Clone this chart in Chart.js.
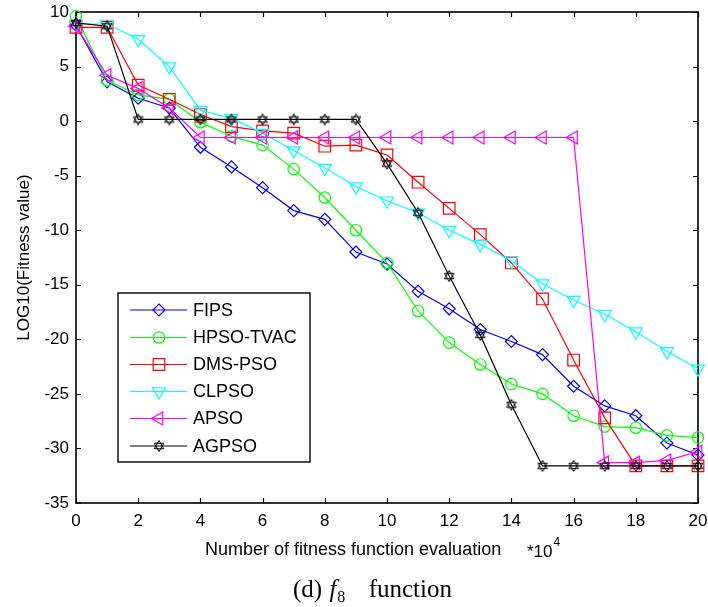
<!DOCTYPE html>
<html>
<head>
<meta charset="utf-8">
<script src="https://cdn.jsdelivr.net/npm/chart.js@4/dist/chart.umd.min.js"></script>
<style>
  html, body { margin:0; padding:0; background:#fff; }
  #wrap { position:relative; width:708px; height:607px; }
</style>
</head>
<body>
<div id="wrap">
  <canvas id="c" width="708" height="607"></canvas>
</div>
<script>
const xValues = [0,1,2,3,4,5,6,7,8,9,10,11,12,13,14,15,16,17,18,19,20];
const seriesNames = ["FIPS","HPSO-TVAC","DMS-PSO","CLPSO","APSO","AGPSO"];
const fips  = [8.8,3.6,2.1,1.2,-2.4,-4.2,-6.1,-8.2,-9.0,-12.0,-13.1,-15.6,-17.2,-19.1,-20.2,-21.4,-24.3,-26.1,-27.0,-29.5,-30.6];
const hpso  = [9.6,3.75,2.4,2.0,-0.1,-1.4,-2.2,-4.4,-7.0,-10.0,-13.0,-17.4,-20.3,-22.3,-24.1,-25.0,-27.0,-28.0,-28.1,-28.8,-29.0];
const dms   = [8.6,8.6,3.3,2.0,0.6,-0.5,-0.9,-1.1,-2.3,-2.2,-3.1,-5.6,-8.0,-10.4,-13.0,-16.3,-21.9,-27.2,-31.6,-31.6,-31.6];
const clpso = [8.9,8.9,7.5,5.0,1.0,0.25,-1.1,-2.7,-4.3,-6.0,-7.3,-8.4,-10.0,-11.3,-12.8,-14.9,-16.4,-17.7,-19.3,-21.1,-22.7];
const apso  = [8.7,4.2,3.0,1.2,-1.5,-1.5,-1.5,-1.5,-1.5,-1.5,-1.5,-1.5,-1.5,-1.5,-1.5,-1.5,-1.5,-31.3,-31.3,-31.1,-30.3];
const agpso = [9.0,8.7,0.15,0.15,0.15,0.15,0.15,0.15,0.15,0.15,-3.9,-8.4,-14.2,-19.6,-26.0,-31.6,-31.6,-31.6,-31.6,-31.6,-31.6];
const xTicks = [0,2,4,6,8,10,12,14,16,18,20];
const yTicks = [-35,-30,-25,-20,-15,-10,-5,0,5,10];

// hexagram marker
function makeStar(){
  const s = 14, c = document.createElement('canvas');
  c.width = s; c.height = s;
  const g = c.getContext('2d');
  g.strokeStyle = '#000'; g.lineWidth = 1;
  const cx = s/2, cy = s/2, r = 5.5;
  for (const off of [-Math.PI/2, Math.PI/2]) {
    g.beginPath();
    for (let k=0;k<3;k++){
      const a = off + k*2*Math.PI/3;
      const px = cx + r*Math.cos(a), py = cy + r*Math.sin(a);
      if(k===0) g.moveTo(px,py); else g.lineTo(px,py);
    }
    g.closePath(); g.stroke();
  }
  return c;
}
const starImg = makeStar();

const styles = [
  {color:'#0000ff', pointStyle:'rectRot', radius:6, rot:0},
  {color:'#00ff00', pointStyle:'circle', radius:5.7, rot:0},
  {color:'#ff0000', pointStyle:'rect', radius:8.2, rot:0},
  {color:'#00ffff', pointStyle:'triangle', radius:7.5, rot:180},
  {color:'#ff00ff', pointStyle:'triangle', radius:7.5, rot:270},
  {color:'#000000', pointStyle:starImg, radius:6, rot:0},
];
const allSeries = [fips,hpso,dms,clpso,apso,agpso];

const datasets = allSeries.map((vals,i)=>({
  label: seriesNames[i],
  data: xValues.map((x,j)=>({x:x, y:vals[j]})),
  borderColor: styles[i].color,
  backgroundColor: 'rgba(0,0,0,0)',
  borderWidth: 1.2,
  pointStyle: styles[i].pointStyle,
  pointRadius: styles[i].radius,
  pointRotation: styles[i].rot,
  pointBorderColor: styles[i].color,
  pointBackgroundColor: 'rgba(0,0,0,0)',
  pointBorderWidth: 1.2,
  tension: 0,
  clip: false,
  order: 6 - i
}));

const FONT = '"Liberation Sans", Arial, sans-serif';
const SERIF = '"Liberation Serif", "Times New Roman", serif';

const framePlugin = {
  id:'frame',
  beforeDatasetsDraw(chart){
    const {ctx, chartArea:a, scales:{x,y}} = chart;
    ctx.save();
    ctx.strokeStyle = '#000'; ctx.lineWidth = 1.6;
    ctx.strokeRect(a.left, a.top, a.right-a.left, a.bottom-a.top);
    ctx.lineWidth = 1.2;
    const L = 5;
    ctx.beginPath();
    xTicks.forEach(v=>{
      const px = Math.round(x.getPixelForValue(v))+0.5;
      ctx.moveTo(px, a.bottom); ctx.lineTo(px, a.bottom-L);
      ctx.moveTo(px, a.top); ctx.lineTo(px, a.top+L);
    });
    yTicks.forEach(v=>{
      const py = Math.round(y.getPixelForValue(v))+0.5;
      ctx.moveTo(a.left, py); ctx.lineTo(a.left+L, py);
      ctx.moveTo(a.right, py); ctx.lineTo(a.right-L, py);
    });
    ctx.stroke();
    ctx.restore();
  },
  afterDraw(chart){
    const {ctx, chartArea:a} = chart;
    ctx.save();
    // axis titles
    ctx.fillStyle = '#000';
    ctx.font = '18px ' + FONT;
    ctx.textBaseline = 'middle';
    ctx.textAlign = 'left';
    ctx.fillText('Number of fitness function evaluation', 205, 550);
    ctx.font = '17px ' + FONT;
    ctx.fillText('*10', 527, 552);
    const w10 = ctx.measureText('*10').width;
    ctx.font = '12px ' + FONT;
    ctx.fillText('4', 527 + w10 + 1, 543);
    ctx.font = '17px ' + FONT;
    ctx.translate(24, (a.top+a.bottom)/2);
    ctx.rotate(-Math.PI/2);
    ctx.textAlign = 'center';
    ctx.fillText('LOG10(Fitness value)', 0, 0);
    ctx.restore();

    // caption
    ctx.save();
    ctx.fillStyle = '#000';
    ctx.textBaseline = 'alphabetic';
    ctx.textAlign = 'left';
    let cx = 293;
    ctx.font = '25px ' + SERIF;
    ctx.fillText('(d) ', cx, 597);
    cx += ctx.measureText('(d) ').width + 1;
    ctx.font = 'italic 25px ' + SERIF;
    ctx.fillText('f', cx, 597);
    cx += ctx.measureText('f').width + 1;
    ctx.font = '16px ' + SERIF;
    ctx.fillText('8', cx, 602);
    ctx.font = '25px ' + SERIF;
    ctx.textAlign = 'right';
    ctx.fillText('function', 452, 597);
    ctx.restore();

    // legend
    ctx.save();
    const bx = 118, by = 293, bw = 192, bh = 169;
    ctx.fillStyle = '#fff';
    ctx.fillRect(bx, by, bw, bh);
    ctx.strokeStyle = '#000'; ctx.lineWidth = 1.4;
    ctx.strokeRect(bx, by, bw, bh);
    const rows = [310, 337.5, 364.5, 391.5, 418.5, 446];
    rows.forEach((ry,i)=>{
      const st = styles[i];
      ctx.strokeStyle = st.color; ctx.lineWidth = 1.2;
      ctx.beginPath(); ctx.moveTo(130, ry); ctx.lineTo(187, ry); ctx.stroke();
      drawMarker(ctx, i, 159, ry);
      ctx.fillStyle = '#000';
      ctx.font = '18px ' + FONT;
      ctx.textAlign = 'left'; ctx.textBaseline = 'middle';
      ctx.fillText(seriesNames[i], 193, ry+1);
    });
    ctx.restore();
  }
};

function drawMarker(ctx, i, cx, cy){
  const st = styles[i];
  ctx.save();
  ctx.strokeStyle = st.color; ctx.lineWidth = 1.2;
  ctx.beginPath();
  if (i===0){ const r=6; ctx.moveTo(cx,cy-r); ctx.lineTo(cx+r,cy); ctx.lineTo(cx,cy+r); ctx.lineTo(cx-r,cy); ctx.closePath(); }
  else if (i===1){ ctx.arc(cx,cy,5.7,0,Math.PI*2); }
  else if (i===2){ const s=5.8; ctx.rect(cx-s,cy-s,2*s,2*s); }
  else if (i===3 || i===4){
    const r=7.5, base = (i===3? Math.PI/2 : Math.PI);
    for(let k=0;k<3;k++){ const ang = base + k*2*Math.PI/3; const px=cx+r*Math.cos(ang), py=cy+r*Math.sin(ang); if(k===0)ctx.moveTo(px,py); else ctx.lineTo(px,py);} ctx.closePath();
  }
  if (i===5){ ctx.drawImage(starImg, cx-starImg.width/2, cy-starImg.height/2); }
  else { ctx.stroke(); }
  ctx.restore();
}

new Chart(document.getElementById('c'), {
  type:'line',
  data:{ datasets },
  plugins:[framePlugin],
  options:{
    responsive:false,
    animation:false,
    devicePixelRatio:1,
    layout:{ padding:{ left:0, right:10, top:12, bottom:0 } },
    plugins:{ legend:{display:false}, tooltip:{enabled:false}, title:{display:false} },
    scales:{
      x:{
        type:'linear', min:0, max:20,
        afterFit(s){ s.height = 104; s.paddingLeft = 0; s.paddingRight = 0; },
        afterBuildTicks(s){ s.ticks = xTicks.map(v=>({value:v})); },
        grid:{ display:false, drawTicks:false },
        border:{ display:false },
        ticks:{ padding:8, color:'#000', font:{ family:FONT, size:17 }, maxRotation:0, autoSkip:false }
      },
      y:{
        type:'linear', min:-35, max:10,
        afterFit(s){ s.width = 76; s.paddingTop = 0; s.paddingBottom = 0; },
        afterBuildTicks(s){ s.ticks = yTicks.map(v=>({value:v})); },
        grid:{ display:false, drawTicks:false },
        border:{ display:false },
        ticks:{ padding:7, color:'#000', font:{ family:FONT, size:17 }, autoSkip:false }
      }
    }
  }
});
</script>
</body>
</html>
